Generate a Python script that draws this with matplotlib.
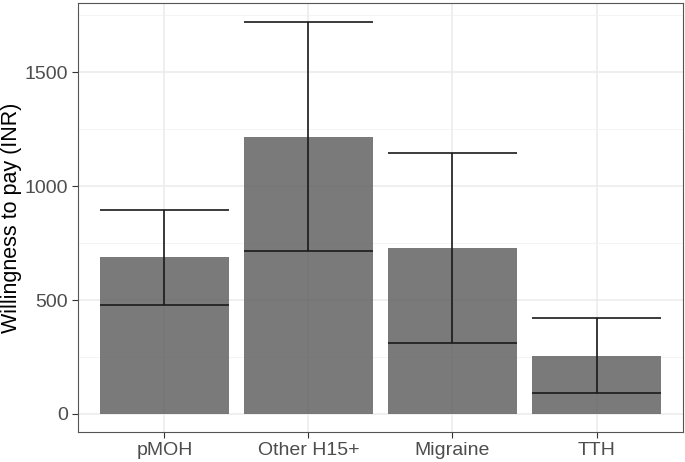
import numpy as np
import matplotlib
matplotlib.use("Agg")
import matplotlib.pyplot as plt
from matplotlib.ticker import MultipleLocator

plt.rcParams['font.family'] = ['Liberation Sans', 'DejaVu Sans']

groups = ["pMOH", "Other H15+", "Migraine", "TTH"]
wtp_mean = [688, 1217, 729, 254]
ci_low = [480, 716, 311, 92]
ci_high = [897, 1721, 1144, 421]

fig = plt.figure(figsize=(6.85, 4.62), dpi=100)
ax = fig.add_axes([0.1139, 0.065, 0.8831, 0.9285])

x = np.arange(1, len(groups) + 1)
ax.bar(x, wtp_mean, width=0.9, color="#595959", alpha=0.8, zorder=2)

# error bars: caps as wide as the bars, like geom_errorbar
ax.vlines(x, ci_low, ci_high, color="#1a1a1a", lw=1.2, zorder=3)
ax.hlines(ci_low, x - 0.45, x + 0.45, color="#1a1a1a", lw=1.2, zorder=3)
ax.hlines(ci_high, x - 0.45, x + 0.45, color="#1a1a1a", lw=1.2, zorder=3)

top = max(ci_high)
ax.set_xlim(0.4, len(groups) + 0.6)
ax.set_ylim(-0.046 * top, top * 1.048)

ax.set_xticks(x)
ax.set_xticklabels(groups)
ax.yaxis.set_major_locator(MultipleLocator(500))
ax.yaxis.set_minor_locator(MultipleLocator(250))

ax.set_axisbelow(True)
ax.grid(which="major", color="#ebebeb", lw=1.1, zorder=0)
ax.grid(which="minor", axis="y", color="#f2f2f2", lw=0.6, zorder=0)
ax.tick_params(axis="both", which="major", length=4, width=0.8, color="#333333",
               labelsize=14, labelcolor="#4d4d4d", pad=3)
ax.tick_params(axis="y", which="minor", length=0)
for s in ax.spines.values():
    s.set_color("#555555")
    s.set_linewidth(0.8)

ax.set_ylabel("Willingness to pay (INR)", fontsize=15.5, color="black", va="center")
ax.yaxis.set_label_coords(-0.110, 0.5)

fig.savefig("out.png", dpi=100)
